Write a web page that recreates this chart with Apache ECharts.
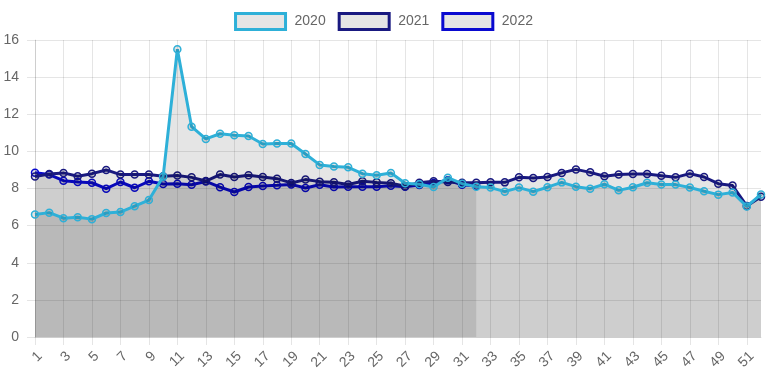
<!DOCTYPE html>
<html>
<head>
<meta charset="utf-8">
<script src="https://cdn.jsdelivr.net/npm/echarts@6/dist/echarts.min.js"></script>
<style>
html,body{margin:0;padding:0;background:#fff;}
#chart{width:767px;height:383px;}
</style>
</head>
<body>
<div id="chart"></div>
<script>
var weeks = ['1','2','3','4','5','6','7','8','9','10','11','12','13','14','15','16','17','18','19','20','21','22','23','24','25','26','27','28','29','30','31','32','33','34','35','36','37','38','39','40','41','42','43','44','45','46','47','48','49','50','51','52'];

var v2020 = [6.6,6.7,6.4,6.45,6.35,6.68,6.73,7.05,7.38,8.64,15.5,11.33,10.67,10.95,10.87,10.83,10.4,10.43,10.42,9.86,9.27,9.18,9.14,8.8,8.71,8.84,8.28,8.23,8.08,8.58,8.26,8.1,8.05,7.83,8.05,7.83,8.07,8.33,8.1,7.99,8.23,7.9,8.07,8.31,8.21,8.21,8.05,7.85,7.67,7.79,7.03,7.68];

var v2021 = [8.65,8.78,8.84,8.66,8.8,9.0,8.75,8.75,8.75,8.66,8.7,8.6,8.4,8.75,8.62,8.71,8.62,8.53,8.3,8.48,8.37,8.34,8.22,8.39,8.33,8.28,8.12,8.31,8.39,8.35,8.31,8.31,8.33,8.33,8.6,8.57,8.62,8.84,9.03,8.87,8.66,8.75,8.78,8.78,8.69,8.6,8.8,8.62,8.26,8.16,7.06,7.56];

var v2022 = [8.85,8.75,8.42,8.35,8.31,7.99,8.35,8.04,8.39,8.24,8.25,8.2,8.38,8.07,7.81,8.08,8.13,8.17,8.22,8.03,8.2,8.08,8.1,8.1,8.1,8.15,8.1,8.19,8.3,8.45,8.2,8.13];

var seriesNames = ['2020','2021','2022'];
var seriesColors = ['#2eb0d8','#191980','#0a0ad0'];
var seriesData = [v2020, v2021, v2022];

var yTicks = {min:0, max:16, interval:2};

var FONT = 'Liberation Sans, Arial, Helvetica, sans-serif';
var GRID = 'rgba(0,0,0,0.1)';

var chart = echarts.init(document.getElementById('chart'), null, {renderer:'canvas'});

var series = seriesNames.map(function(n, i){
  return {
    name: n,
    type: 'line',
    data: seriesData[i],
    z: 10 - i,
    symbol: 'circle',
    symbolSize: 7,
    showSymbol: true,
    showAllSymbol: true,
    lineStyle: {color: seriesColors[i], width: 3},
    itemStyle: {color: 'rgba(0,0,0,0.1)', borderColor: seriesColors[i], borderWidth: 1.5},
    areaStyle: {color: 'rgba(0,0,0,0.1)', opacity: 1, origin: 'start'},
    emphasis: {disabled: true}
  };
});

chart.setOption({
  animation: false,
  textStyle: {fontFamily: FONT},
  legend: {
    top: 7,
    left: 'center',
    icon: 'rect',
    itemWidth: 50,
    itemHeight: 16,
    itemGap: 12,
    textStyle: {color: '#666', fontSize: 14, fontFamily: FONT, padding: [0, 0, 0, 4]},
    data: seriesNames.map(function(n, i){
      return {name: n, icon: 'rect', itemStyle: {color: '#e5e5e5', borderColor: seriesColors[i], borderWidth: 3}};
    })
  },
  grid: {left: 35, right: 6, top: 40, bottom: 46, containLabel: false},
  xAxis: {
    type: 'category',
    data: weeks,
    boundaryGap: false,
    axisLine: {show: true, lineStyle: {color: GRID}},
    axisTick: {show: true, interval: 1, length: 8, lineStyle: {color: GRID}},
    axisLabel: {interval: 1, rotate: 45, verticalAlign: 'top', color: '#666', fontSize: 14, fontFamily: FONT, margin: 12},
    splitLine: {show: true, interval: 1, lineStyle: {color: GRID}}
  },
  yAxis: {
    type: 'value',
    min: yTicks.min,
    max: yTicks.max,
    interval: yTicks.interval,
    axisLine: {show: true, lineStyle: {color: GRID}},
    axisTick: {show: true, length: 8, lineStyle: {color: GRID}},
    axisLabel: {color: '#666', fontSize: 14, fontFamily: FONT, margin: 16},
    splitLine: {show: true, lineStyle: {color: GRID}}
  },
  series: series
});
</script>
</body>
</html>
